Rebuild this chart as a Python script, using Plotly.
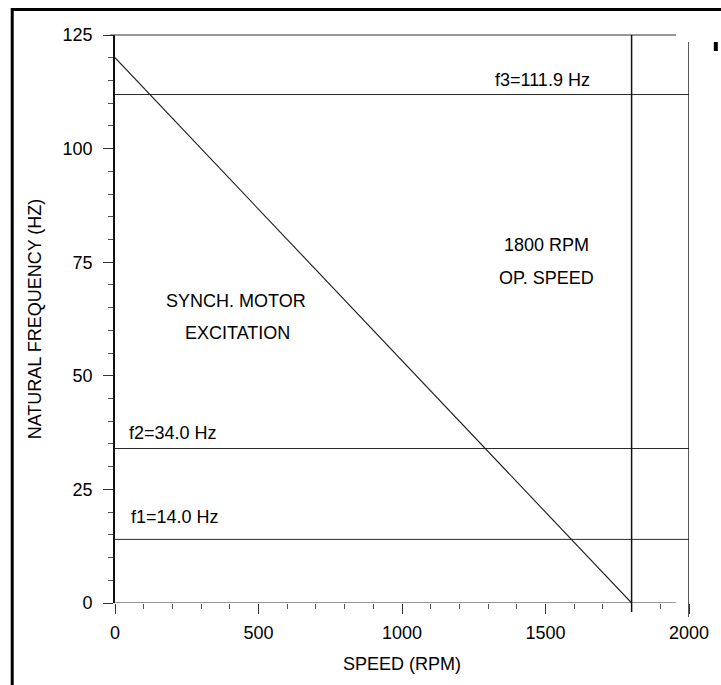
import plotly.graph_objects as go

# ---- data ----
speed_rpm = [0, 1800]            # synchronous motor excitation line
excitation_hz = [120, 0]
mode_names = ["f1", "f2", "f3"]
mode_freqs = [14.0, 34.0, 111.9]
op_speed = 1800
x_range = [0, 2000]
y_range = [0, 125]
x_tickvals = [0, 500, 1000, 1500, 2000]
y_tickvals = [0, 25, 50, 75, 100, 125]

# ---- layout geometry (pixels) ----
W, H = 721, 685
ML, MR, MT, MB = 115, 28, 35, 82
PW = W - ML - MR
PH = H - MT - MB


def px_x(p):
    return (p - ML) / PW


def px_y(p):
    return (H - MB - p) / PH


FONT = "Liberation Sans, Arial, sans-serif"
FS = 18
LINE = "#1a1a1a"

fig = go.Figure()

# natural frequency lines
for name, f in zip(mode_names, mode_freqs):
    fig.add_trace(go.Scatter(x=x_range, y=[f, f], mode="lines",
                             line=dict(color="#2a2a2a", width=1),
                             showlegend=False, hoverinfo="skip"))

# excitation line
fig.add_trace(go.Scatter(x=speed_rpm, y=excitation_hz, mode="lines",
                         line=dict(color=LINE, width=1.1),
                         showlegend=False, hoverinfo="skip"))

shapes = [
    # bottom axis line (stops short of right edge)
    dict(type="line", xref="paper", yref="y", x0=0, x1=px_x(680),
         y0=y_range[0], y1=y_range[0], line=dict(color="#333", width=1.2)),
    # top frame line
    dict(type="line", xref="paper", yref="paper", x0=px_x(110), x1=px_x(680),
         y0=1, y1=1, line=dict(color="#333", width=1.2)),
    # right frame line at 2000 rpm
    dict(type="line", xref="x", yref="paper", x0=x_range[1], x1=x_range[1],
         y0=px_y(617), y1=px_y(42), line=dict(color="#222", width=1.5)),
    # operating speed line
    dict(type="line", xref="x", yref="paper", x0=op_speed, x1=op_speed,
         y0=px_y(612), y1=1, line=dict(color="#111", width=1.5)),
    # outer page frame
    dict(type="rect", xref="paper", yref="paper", x0=px_x(11.5), x1=px_x(740),
         y0=px_y(720), y1=px_y(9.5), line=dict(color="black", width=3)),
    # cut-off glyph at right edge
    dict(type="rect", xref="paper", yref="paper", x0=px_x(718), x1=px_x(722),
         y0=px_y(51), y1=px_y(42), fillcolor="black", line=dict(width=0)),
]

ann_font = dict(family=FONT, size=FS, color="black")
annotations = [
    dict(x=1491, y=115.1, text="f3=111.9 Hz", showarrow=False, font=ann_font),
    dict(x=1505, y=78.8, text="1800 RPM", showarrow=False, font=ann_font),
    dict(x=1505, y=71.5, text="OP. SPEED", showarrow=False, font=ann_font),
    dict(x=422, y=66.5, text="SYNCH. MOTOR", showarrow=False, font=ann_font),
    dict(x=426, y=59.4, text="EXCITATION", showarrow=False, font=ann_font),
    dict(x=42, y=37.4, text="f2=34.0 Hz", showarrow=False, font=ann_font,
         xanchor="left"),
    dict(x=49, y=18.9, text="f1=14.0 Hz", showarrow=False, font=ann_font,
         xanchor="left"),
]

fig.update_layout(
    width=W, height=H,
    margin=dict(l=ML, r=MR, t=MT, b=MB, pad=0),
    paper_bgcolor="white", plot_bgcolor="white",
    font=dict(family=FONT, size=FS, color="black"),
    shapes=shapes, annotations=annotations,
    showlegend=False,
)

fig.update_xaxes(
    range=x_range, tickmode="array", tickvals=x_tickvals,
    ticks="outside", ticklen=10, tickwidth=1, tickcolor="#333",
    minor=dict(dtick=100, tick0=0, ticks="outside", ticklen=5,
               tickwidth=1, tickcolor="#555"),
    showgrid=False, zeroline=False, showline=False,
    ticklabelstandoff=3,
    tickfont=dict(family=FONT, size=FS, color="black"),
    title=dict(text="SPEED (RPM)", standoff=15,
               font=dict(family=FONT, size=FS, color="black")),
)
fig.update_yaxes(
    range=y_range, tickmode="array", tickvals=y_tickvals,
    ticks="outside", ticklen=10, tickwidth=1, tickcolor="#333",
    minor=dict(dtick=5, tick0=0, ticks="outside", ticklen=5,
               tickwidth=1, tickcolor="#555"),
    showgrid=False, zeroline=False, showline=True, linecolor="#111",
    linewidth=1.6,
    ticklabelstandoff=7,
    tickfont=dict(family=FONT, size=FS, color="black"),
    title=dict(text="NATURAL FREQUENCY (HZ)", standoff=16,
               font=dict(family=FONT, size=FS, color="black")),
)

fig.write_html("out.html")
